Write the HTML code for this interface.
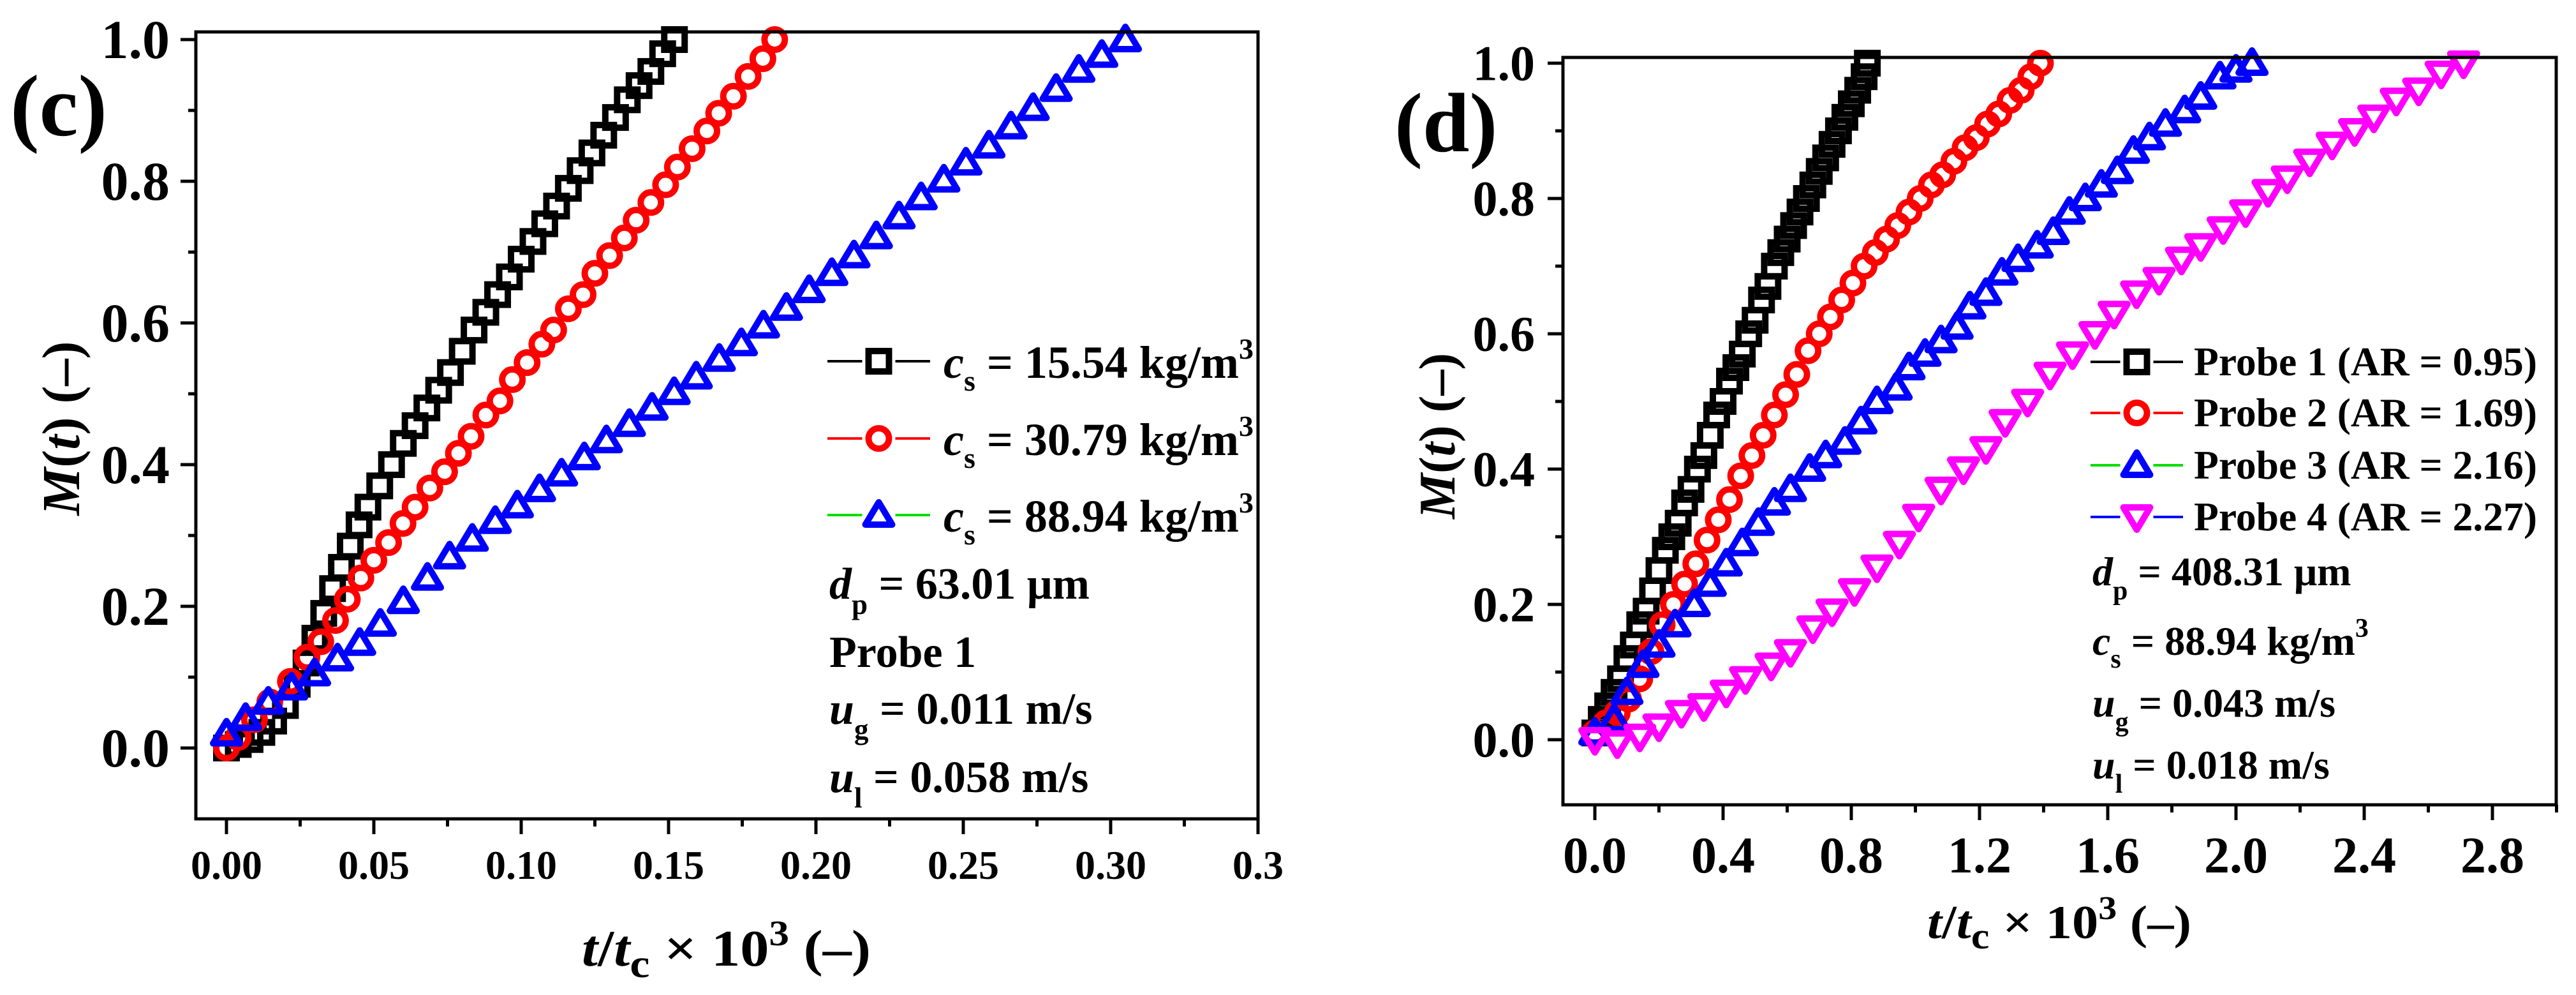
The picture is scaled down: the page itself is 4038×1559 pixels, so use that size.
<!DOCTYPE html>
<html><head><meta charset="utf-8"><style>
html,body{margin:0;padding:0;background:#fff;}
svg{display:block;}
text{font-family:"Liberation Serif","DejaVu Serif",serif;font-weight:bold;fill:#000;}
</style></head><body>
<svg id="fig" width="4038" height="1559" viewBox="0 0 4038 1559" xmlns="http://www.w3.org/2000/svg">
<rect width="4038" height="1559" fill="#fff"/>
<g id="panelC"></g>
<g id="panelD"></g>

<text x="16" y="212" font-size="137">(c)</text>
<text transform="translate(124,671) rotate(-90)" text-anchor="middle" font-size="84"><tspan font-style="italic">M</tspan>(<tspan font-style="italic">t</tspan>) (–)</text>
<text x="912" y="1513" font-size="80" textLength="453" lengthAdjust="spacingAndGlyphs"><tspan font-style="italic">t</tspan>/<tspan font-style="italic">t</tspan><tspan dy="18" font-size="62">c</tspan><tspan dy="-18"> × 10</tspan><tspan dy="-32" font-size="56">3</tspan><tspan dy="32"> (–)</tspan></text>

<g>
<text x="1479" y="592" font-size="72"><tspan font-style="italic">c</tspan><tspan dy="20" font-size="46">s</tspan><tspan dy="-20"> = 15.54 kg/m</tspan><tspan dy="-30" font-size="46">3</tspan></text>
<text x="1479" y="713" font-size="72"><tspan font-style="italic">c</tspan><tspan dy="20" font-size="46">s</tspan><tspan dy="-20"> = 30.79 kg/m</tspan><tspan dy="-30" font-size="46">3</tspan></text>
<text x="1479" y="833" font-size="72"><tspan font-style="italic">c</tspan><tspan dy="20" font-size="46">s</tspan><tspan dy="-20"> = 88.94 kg/m</tspan><tspan dy="-30" font-size="46">3</tspan></text>
</g>
<g>
<text x="1300" y="938" font-size="70"><tspan font-style="italic">d</tspan><tspan dy="24" font-size="45">p</tspan><tspan dy="-24"> = 63.01 μm</tspan></text>
<text x="1300" y="1045" font-size="70">Probe 1</text>
<text x="1300" y="1134" font-size="70"><tspan font-style="italic">u</tspan><tspan dy="24" font-size="45">g</tspan><tspan dy="-24"> = 0.011 m/s</tspan></text>
<text x="1300" y="1241" font-size="70"><tspan font-style="italic">u</tspan><tspan dy="24" font-size="45">l</tspan><tspan dy="-24"> = 0.058 m/s</tspan></text>
</g>

<text x="2186" y="237" font-size="132">(d)</text>
<text transform="translate(2280,683) rotate(-90)" text-anchor="middle" font-size="80"><tspan font-style="italic">M</tspan>(<tspan font-style="italic">t</tspan>) (–)</text>
<text x="3021" y="1470" font-size="74" textLength="414" lengthAdjust="spacingAndGlyphs"><tspan font-style="italic">t</tspan>/<tspan font-style="italic">t</tspan><tspan dy="16" font-size="58">c</tspan><tspan dy="-16"> × 10</tspan><tspan dy="-30" font-size="52">3</tspan><tspan dy="30"> (–)</tspan></text>

<g>
<text x="3439" y="588" font-size="63" textLength="538" lengthAdjust="spacingAndGlyphs">Probe 1 (AR = 0.95)</text>
<text x="3439" y="668" font-size="63" textLength="538" lengthAdjust="spacingAndGlyphs">Probe 2 (AR = 1.69)</text>
<text x="3439" y="750" font-size="63" textLength="538" lengthAdjust="spacingAndGlyphs">Probe 3 (AR = 2.16)</text>
<text x="3439" y="831" font-size="63" textLength="538" lengthAdjust="spacingAndGlyphs">Probe 4 (AR = 2.27)</text>
</g>
<g>
<text x="3280" y="917" font-size="64"><tspan font-style="italic">d</tspan><tspan dy="22" font-size="42">p</tspan><tspan dy="-22"> = 408.31 μm</tspan></text>
<text x="3280" y="1026" font-size="64"><tspan font-style="italic">c</tspan><tspan dy="20" font-size="42">s</tspan><tspan dy="-20"> = 88.94 kg/m</tspan><tspan dy="-28" font-size="42">3</tspan></text>
<text x="3280" y="1123" font-size="64"><tspan font-style="italic">u</tspan><tspan dy="22" font-size="42">g</tspan><tspan dy="-22"> = 0.043 m/s</tspan></text>
<text x="3280" y="1220" font-size="64"><tspan font-style="italic">u</tspan><tspan dy="22" font-size="42">l</tspan><tspan dy="-22"> = 0.018 m/s</tspan></text>
</g>
</svg>
<script>
const cTickVals = [0,0.05,0.10,0.15,0.20,0.25,0.30,0.35];
const cTickLabels = ["0.00","0.05","0.10","0.15","0.20","0.25","0.30","0.3"];
const cYTickVals = [0,0.2,0.4,0.6,0.8,1.0];
const cYTickLabels = ["0.0","0.2","0.4","0.6","0.8","1.0"];
const c1x = [0.000,0.004,0.008,0.012,0.016,0.020,0.024,0.027,0.030,0.033,0.036,0.039,0.042,0.045,0.048,0.052,0.056,0.060,0.064,0.068,0.072,0.076,0.080,0.084,0.088,0.092,0.096,0.100,0.104,0.108,0.112,0.116,0.120,0.124,0.128,0.132,0.136,0.140,0.144,0.148,0.152];
const c1y = [0.000,0.005,0.012,0.022,0.038,0.060,0.090,0.120,0.155,0.190,0.225,0.255,0.285,0.315,0.340,0.370,0.400,0.430,0.455,0.480,0.505,0.530,0.560,0.590,0.615,0.640,0.665,0.690,0.715,0.740,0.765,0.790,0.815,0.840,0.865,0.890,0.915,0.935,0.955,0.980,1.000];
const c2x = [0.000,0.004,0.0095,0.0147,0.0217,0.0273,0.032,0.037,0.041,0.0456,0.050,0.055,0.0599,0.064,0.069,0.074,0.0787,0.083,0.088,0.0928,0.097,0.102,0.107,0.111,0.116,0.121,0.125,0.130,0.135,0.139,0.144,0.149,0.153,0.158,0.163,0.167,0.172,0.177,0.182,0.186];
const c2y = [0.000,0.015,0.040,0.065,0.094,0.128,0.150,0.180,0.210,0.240,0.265,0.290,0.317,0.340,0.367,0.390,0.416,0.440,0.470,0.490,0.520,0.544,0.570,0.590,0.620,0.640,0.670,0.695,0.720,0.745,0.770,0.795,0.820,0.846,0.871,0.896,0.920,0.948,0.973,1.000];
const c3x = [0.000,0.0065,0.0142,0.0221,0.0299,0.0377,0.0452,0.0522,0.0600,0.0682,0.0757,0.0834,0.0912,0.0987,0.1062,0.1137,0.1214,0.1289,0.1367,0.1444,0.1519,0.1594,0.1672,0.1747,0.1822,0.1900,0.1977,0.2054,0.2129,0.2205,0.2282,0.2357,0.2434,0.2509,0.2587,0.2662,0.2737,0.2815,0.2892,0.297,0.305];
const c3y = [0.020,0.042,0.065,0.085,0.105,0.126,0.148,0.175,0.207,0.240,0.270,0.295,0.320,0.342,0.365,0.387,0.410,0.434,0.457,0.480,0.502,0.524,0.549,0.571,0.596,0.621,0.646,0.670,0.695,0.722,0.750,0.777,0.802,0.826,0.850,0.877,0.903,0.930,0.957,0.978,1.000];

const dTickVals = [0,0.4,0.8,1.2,1.6,2.0,2.4,2.8];
const dTickLabels = ["0.0","0.4","0.8","1.2","1.6","2.0","2.4","2.8"];
const dYTickVals = [0,0.2,0.4,0.6,0.8,1.0];
const dYTickLabels = ["0.0","0.2","0.4","0.6","0.8","1.0"];
const d1x = [0,0.02,0.04,0.06,0.08,0.10,0.12,0.14,0.16,0.18,0.20,0.22,0.24,0.26,0.28,0.30,0.32,0.34,0.36,0.38,0.40,0.42,0.44,0.46,0.48,0.50,0.52,0.54,0.56,0.58,0.60,0.62,0.64,0.66,0.68,0.70,0.72,0.74,0.76,0.78,0.80,0.82,0.84,0.85];
const d1y = [0.01,0.03,0.05,0.07,0.09,0.12,0.14,0.17,0.19,0.22,0.25,0.28,0.30,0.32,0.35,0.37,0.40,0.42,0.45,0.48,0.50,0.53,0.55,0.57,0.60,0.62,0.65,0.67,0.70,0.72,0.74,0.76,0.78,0.80,0.82,0.84,0.86,0.88,0.90,0.92,0.94,0.96,0.98,1.00];
const d2x = [0,0.035,0.07,0.105,0.14,0.175,0.21,0.245,0.28,0.315,0.35,0.385,0.42,0.455,0.49,0.525,0.56,0.595,0.63,0.665,0.70,0.735,0.77,0.805,0.84,0.875,0.91,0.945,0.98,1.015,1.05,1.085,1.12,1.155,1.19,1.225,1.26,1.295,1.33,1.36,1.39];
const d2y = [0.01,0.025,0.04,0.06,0.09,0.13,0.17,0.20,0.23,0.26,0.295,0.325,0.355,0.39,0.42,0.45,0.48,0.51,0.54,0.575,0.60,0.625,0.65,0.675,0.70,0.72,0.74,0.76,0.78,0.80,0.82,0.835,0.855,0.875,0.89,0.91,0.925,0.945,0.96,0.98,1.00];
const d3x = [0,0.06,0.10,0.15,0.20,0.25,0.31,0.36,0.41,0.46,0.51,0.56,0.61,0.67,0.72,0.78,0.83,0.88,0.94,0.98,1.03,1.08,1.13,1.17,1.22,1.27,1.32,1.38,1.43,1.48,1.53,1.58,1.63,1.68,1.73,1.78,1.84,1.89,1.95,2.00,2.05];
const d3y = [0.01,0.03,0.07,0.11,0.14,0.17,0.20,0.23,0.26,0.29,0.32,0.35,0.37,0.40,0.42,0.44,0.47,0.50,0.52,0.55,0.57,0.59,0.61,0.64,0.66,0.69,0.71,0.73,0.75,0.78,0.80,0.82,0.84,0.87,0.89,0.91,0.93,0.95,0.98,0.99,1.00];
const d4x = [0,0.07,0.14,0.20,0.27,0.34,0.41,0.47,0.55,0.61,0.68,0.74,0.81,0.88,0.95,1.01,1.08,1.15,1.22,1.28,1.35,1.42,1.49,1.56,1.62,1.69,1.76,1.83,1.89,1.96,2.03,2.10,2.16,2.23,2.30,2.37,2.43,2.50,2.57,2.64,2.71];
const d4y = [0.00,-0.005,0.005,0.02,0.04,0.05,0.07,0.09,0.11,0.13,0.165,0.19,0.22,0.255,0.29,0.33,0.37,0.40,0.43,0.47,0.50,0.54,0.57,0.60,0.63,0.66,0.68,0.71,0.73,0.755,0.78,0.81,0.83,0.855,0.88,0.90,0.92,0.945,0.96,0.985,1.00];

const NS = "http://www.w3.org/2000/svg";
function mk(tag, attrs, parent){
  const e = document.createElementNS(NS, tag);
  for (const k in attrs) e.setAttribute(k, attrs[k]);
  parent.appendChild(e);
  return e;
}
function marker(g, shape, cx, cy, color){
  let e;
  const sw = 10;
  if (shape === "square") {
    e = mk("rect", {x: cx-16, y: cy-16, width: 32, height: 32, fill: "none", stroke: color, "stroke-width": sw}, g);
  } else if (shape === "circle") {
    e = mk("circle", {cx: cx, cy: cy, r: 16, fill: "none", stroke: color, "stroke-width": sw}, g);
  } else if (shape === "tri") {
    e = mk("polygon", {points: (cx)+","+(cy-20)+" "+(cx+21)+","+(cy+15)+" "+(cx-21)+","+(cy+15), fill: "none", stroke: color, "stroke-width": sw, "stroke-linejoin": "round"}, g);
  } else {
    e = mk("polygon", {points: (cx)+","+(cy+20)+" "+(cx+21)+","+(cy-15)+" "+(cx-21)+","+(cy-15), fill: "none", stroke: color, "stroke-width": sw, "stroke-linejoin": "round"}, g);
  }
  return e;
}

function drawPanel(cfg){
  const g = document.getElementById(cfg.id);
  const xs = v => cfg.x0 + v*cfg.kx;
  const ys = v => cfg.y0 - v*cfg.ky;
  cfg.series.forEach(s => {
    const sg = mk("g", {}, g);
    
    
    for (let i=0;i<s.x.length;i++){
      const m = marker(sg, s.shape, xs(s.x[i]), ys(s.y[i]), s.color);
      
      
    }
  });
  const fr = mk("rect", {x: cfg.L, y: cfg.T, width: cfg.R-cfg.L, height: cfg.B-cfg.T, fill: "none", stroke: "#000", "stroke-width": 5}, g);
  
  
  const xg = mk("g", {}, g);
  
  
  cfg.xTicks.forEach((v,i) => {
    const X = xs(v);
    mk("line", {x1: X, y1: cfg.B, x2: X, y2: cfg.B+24, stroke: "#000", "stroke-width": 5}, xg);
    const t = mk("text", {x: X, y: cfg.xLabY, "text-anchor": "middle", "font-size": cfg.xFont}, xg);
    t.textContent = cfg.xLabels[i];
    
    
  });
  cfg.xMinor.forEach(v => {
    const X = xs(v);
    mk("line", {x1: X, y1: cfg.B, x2: X, y2: cfg.B+12, stroke: "#000", "stroke-width": 5}, xg);
  });
  const yg = mk("g", {}, g);
  
  
  cfg.yTicks.forEach((v,i) => {
    const Y = ys(v);
    mk("line", {x1: cfg.L, y1: Y, x2: cfg.L-24, y2: Y, stroke: "#000", "stroke-width": 5}, yg);
    const t = mk("text", {x: cfg.yLabX, y: Y + cfg.yFont*0.34, "text-anchor": "end", "font-size": cfg.yFont}, yg);
    t.textContent = cfg.yLabels[i];
    
    
  });
  cfg.yMinor.forEach(v => {
    const Y = ys(v);
    mk("line", {x1: cfg.L, y1: Y, x2: cfg.L-12, y2: Y, stroke: "#000", "stroke-width": 5}, yg);
  });
  cfg.legend.forEach(le => {
    const lg = mk("g", {}, g);
    
    
    mk("line", {x1: cfg.legX1, y1: le.y, x2: cfg.legX2, y2: le.y, stroke: le.line, "stroke-width": 4}, lg);
    const mcx = (cfg.legX1+cfg.legX2)/2;
    mk("rect", {x: mcx-26, y: le.y-26, width: 52, height: 52, fill: "#fff"}, lg);
    marker(lg, le.shape, mcx, le.y, le.color);
  });
}

drawPanel({
  id: "panelC", L: 307, R: 1972, T: 50, B: 1283,
  x0: 355, kx: 4620, y0: 1172, ky: 1110,
  xTicks: cTickVals, xLabels: cTickLabels, xMinor: [0.025,0.075,0.125,0.175,0.225,0.275,0.325],
  yTicks: cYTickVals, yLabels: cYTickLabels, yMinor: [0.1,0.3,0.5,0.7,0.9],
  xLabY: 1377, xFont: 64, yLabX: 266, yFont: 86,
  series: [
    {name: "series-cs-15", x: c1x, y: c1y, shape: "square", color: "#000"},
    {name: "series-cs-30", x: c2x, y: c2y, shape: "circle", color: "#ff0000"},
    {name: "series-cs-88", x: c3x, y: c3y, shape: "tri", color: "#0000ff"}
  ],
  legX1: 1297, legX2: 1458,
  legend: [
    {name: "legend-marker-cs-15", y: 566, shape: "square", color: "#000", line: "#000"},
    {name: "legend-marker-cs-30", y: 687, shape: "circle", color: "#ff0000", line: "#ff0000"},
    {name: "legend-marker-cs-88", y: 807, shape: "tri", color: "#0000ff", line: "#00dd00"}
  ]
});

drawPanel({
  id: "panelD", L: 2450, R: 4007, T: 90, B: 1261,
  x0: 2500, kx: 502.5, y0: 1159, ky: 1060,
  xTicks: dTickVals, xLabels: dTickLabels, xMinor: [0.2,0.6,1.0,1.4,1.8,2.2,2.6,3.0],
  yTicks: dYTickVals, yLabels: dYTickLabels, yMinor: [0.1,0.3,0.5,0.7,0.9],
  xLabY: 1367, xFont: 80, yLabX: 2406, yFont: 78,
  series: [
    {name: "series-probe-1", x: d1x, y: d1y, shape: "square", color: "#000"},
    {name: "series-probe-2", x: d2x, y: d2y, shape: "circle", color: "#ff0000"},
    {name: "series-probe-3", x: d3x, y: d3y, shape: "tri", color: "#0000ff"},
    {name: "series-probe-4", x: d4x, y: d4y, shape: "itri", color: "#ff00ff"}
  ],
  legX1: 3277, legX2: 3422,
  legend: [
    {name: "legend-marker-probe-1", y: 567, shape: "square", color: "#000", line: "#000"},
    {name: "legend-marker-probe-2", y: 647, shape: "circle", color: "#ff0000", line: "#ff0000"},
    {name: "legend-marker-probe-3", y: 729, shape: "tri", color: "#0000ff", line: "#00dd00"},
    {name: "legend-marker-probe-4", y: 810, shape: "itri", color: "#ff00ff", line: "#0000ff"}
  ]
});
</script>
</body></html>
